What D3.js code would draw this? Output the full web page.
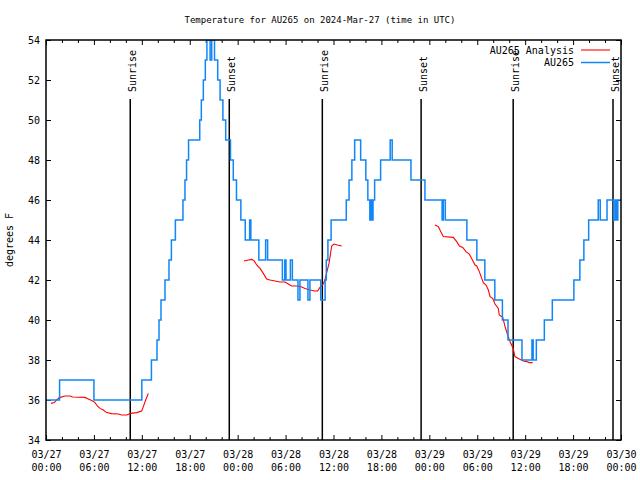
<!DOCTYPE html>
<html><head><meta charset="utf-8">
<script src="https://cdn.jsdelivr.net/npm/d3@7"></script>
<style>
body{margin:0;background:#fff;}
svg{display:block;}
text{font-family:"DejaVu Sans Mono",monospace;font-size:10px;fill:#000;}
</style></head><body>
<svg id="c" width="640" height="480"></svg>
<script>
const titleText = "Temperature for AU265 on 2024-Mar-27 (time in UTC)";
const yAxisLabel = "degrees F";
const seriesNames = ["AU265 Analysis", "AU265"];
const seriesColors = ["#ff0000", "#1186f5"];
const startTime = "2024-03-27T00:00:00Z";
const endTime = "2024-03-30T00:00:00Z";
const yTickValues = [34, 36, 38, 40, 42, 44, 46, 48, 50, 52, 54];

// AU265 observations (hours since start, degrees F)
const blueHours = [0, 1.7, 6.0, 12.0, 13.2, 13.9, 14.15, 14.4, 14.9, 15.4, 15.7, 16.2, 17.15, 17.4, 17.6, 17.85,
  19.25, 19.45, 19.7, 19.95, 20.15, 20.35, 20.55, 20.75, 20.95, 21.1, 21.5, 21.8, 22.15, 22.5, 23.1, 23.45, 23.85,
  24.4, 24.95, 25.5, 25.65, 26.65, 27.5, 27.75, 29.6, 29.9, 30.05, 30.6, 30.85, 31.55, 31.8, 32.8, 33.05, 34.4,
  34.95, 35.1, 35.3, 35.7, 37.6, 37.95, 38.3, 38.65, 39.4, 40.05, 40.3, 40.55, 40.7, 40.85, 40.95, 41.15, 41.9,
  43.1, 43.35, 45.7, 47.45, 49.6, 49.75, 50.0, 52.7, 53.95, 54.95, 56.2, 57.15, 57.85, 59.6, 60.85, 61.0, 61.4,
  62.4, 63.4, 66.1, 66.85, 67.35, 67.95, 69.15, 69.4, 70.25, 71.1, 71.3, 71.45, 71.6, 72];
const blueTemps = [36, 37, 36, 37, 38, 39, 40, 41, 42, 43, 44, 45, 46, 47, 48, 49,
  50, 51, 52, 53, 55, 54, 53, 55, 54, 53, 52, 51, 50, 49, 48, 47, 46,
  45, 44, 45, 44, 43, 44, 43, 42, 43, 42, 43, 42, 41, 42, 41, 42, 41,
  42, 43, 44, 45, 46, 47, 48, 49, 48, 47, 46, 45, 46, 45, 46, 47, 48,
  49, 48, 47, 46, 45, 46, 45, 44, 43, 42, 41, 40, 39, 38, 39, 38, 39,
  40, 41, 42, 43, 44, 45, 46, 45, 46, 45, 46, 45, 46, 46];

// AU265 Analysis (hours since start, degrees F); null = gap
const redHours = [0.63, 1.04, 1.34, 1.67, 2.38, 3.0, 3.34, 4.88, 5.3, 5.72, 6.14, 6.43, 6.76, 7.18, 7.6, 8.22, 9.05,
  9.48, 10.1, 10.6, 11.35, 11.98, 12.19, 12.48, 12.81, 18,
  24.79, 25.34, 25.75, 26.05, 26.38, 26.8, 27.21, 27.63, 28.05, 28.68, 29.3, 29.93, 30.34, 30.76, 31.39, 31.89,
  32.43, 33.06, 33.68, 34.0, 34.31, 34.64, 34.9, 35.15, 35.44, 35.77, 36.06, 36.48, 37.03, 42,
  48.71, 49.13, 49.42, 49.75, 51.0, 51.43, 51.76, 52.18, 52.59, 53.0, 53.3, 53.72, 53.93, 54.26, 54.56, 54.76,
  55.1, 55.39, 55.6, 55.93, 56.22, 56.64, 56.76, 57.19, 57.48, 57.77, 58.1, 58.5, 58.72, 59.14, 59.77, 60.19,
  60.52, 60.94];
const redTemps = [35.83, 35.87, 36.0, 36.12, 36.2, 36.2, 36.15, 36.13, 36.05, 35.97, 35.87, 35.7, 35.58, 35.5, 35.37,
  35.32, 35.3, 35.25, 35.25, 35.33, 35.37, 35.45, 35.67, 36.0, 36.33, null,
  42.95, 43.0, 43.03, 42.97, 42.75, 42.58, 42.33, 42.05, 42.0, 41.95, 41.9, 41.9, 41.8, 41.7, 41.7, 41.67,
  41.58, 41.5, 41.45, 41.45, 41.63, 41.75, 41.97, 42.37, 42.83, 43.7, 43.8, 43.75, 43.7, null,
  44.75, 44.67, 44.42, 44.17, 44.13, 43.92, 43.7, 43.63, 43.42, 43.3, 43.08, 42.75, 42.7, 42.42, 42.08, 41.87,
  41.75, 41.5, 41.17, 41.08, 40.8, 40.58, 40.25, 40.13, 39.67, 39.3, 38.92, 38.58, 38.17, 38.08, 37.95, 37.92,
  37.87, 37.87];

const sunEventHours = [10.55, 22.95, 34.6, 46.97, 58.5, 71.0];
const sunEventLabels = ["Sunrise", "Sunset", "Sunrise", "Sunset", "Sunrise", "Sunset"];

const svg = d3.select("#c");
const L = 46, R = 621, T = 40, B = 440;
const t0 = new Date(startTime);
const toDate = h => new Date(t0.getTime() + h * 3600e3);
const x = d3.scaleUtc().domain([t0, new Date(endTime)]).range([L, R]);
const y = d3.scaleLinear().domain([34, 54]).range([B, T]);

svg.append("defs").append("clipPath").attr("id", "clip")
  .append("rect").attr("x", L).attr("y", T).attr("width", R - L).attr("height", B - T);

const majorX = d3.utcHour.every(6).range(t0, new Date(new Date(endTime).getTime() + 1));
const minorX = d3.utcHour.every(2).range(t0, new Date(endTime)).filter(d => d.getUTCHours() % 6 !== 0);

function styleAxis(g) {
  g.select(".domain").remove();
  g.selectAll("line").attr("stroke", "#000").attr("stroke-width", 1);
}
// bottom axis (major + minor)
const gb = svg.append("g").attr("transform", `translate(0,${B})`)
  .call(d3.axisBottom(x).tickValues(majorX).tickSizeInner(-5).tickSizeOuter(0).tickPadding(0).tickFormat(""));
styleAxis(gb);
gb.selectAll(".tick").each(function(d) {
  const t = d3.select(this).append("text").attr("text-anchor", "middle");
  t.append("tspan").attr("x", 0).attr("y", 18).text(d3.utcFormat("%m/%d")(d));
  t.append("tspan").attr("x", 0).attr("y", 31).text(d3.utcFormat("%H:%M")(d));
});
styleAxis(svg.append("g").attr("transform", `translate(0,${B})`)
  .call(d3.axisBottom(x).tickValues(minorX).tickSizeInner(-3).tickSizeOuter(0).tickFormat("")));
// top mirror
styleAxis(svg.append("g").attr("transform", `translate(0,${T})`)
  .call(d3.axisTop(x).tickValues(majorX).tickSizeInner(-5).tickSizeOuter(0).tickFormat("")));
styleAxis(svg.append("g").attr("transform", `translate(0,${T})`)
  .call(d3.axisTop(x).tickValues(minorX).tickSizeInner(-3).tickSizeOuter(0).tickFormat("")));
// left axis
const gl = svg.append("g").attr("transform", `translate(${L},0)`)
  .call(d3.axisLeft(y).tickValues(yTickValues).tickSizeInner(-5).tickSizeOuter(0).tickPadding(0).tickFormat(""));
styleAxis(gl);
gl.selectAll(".tick").append("text").attr("x", -6).attr("dy", "0.35em").attr("text-anchor", "end")
  .text(d => d3.format("d")(d));
// right mirror
styleAxis(svg.append("g").attr("transform", `translate(${R},0)`)
  .call(d3.axisRight(y).tickValues(yTickValues).tickSizeInner(-5).tickSizeOuter(0).tickFormat("")));

// sunrise / sunset markers
const sg = svg.append("g");
sunEventHours.forEach((h, i) => {
  const px = x(toDate(h));
  sg.append("line").attr("x1", px).attr("x2", px).attr("y1", 99).attr("y2", B)
    .attr("stroke", "#000").attr("stroke-width", 1.5);
  sg.append("text").attr("transform", `translate(${px + 5.5},92) rotate(-90)`)
    .attr("text-anchor", "start").text(sunEventLabels[i]);
});

// data
const plot = svg.append("g").attr("clip-path", "url(#clip)");
const redData = redHours.map((h, i) => ({ t: toDate(h), v: redTemps[i] }));
plot.append("path").datum(redData)
  .attr("fill", "none").attr("stroke", seriesColors[0]).attr("stroke-width", 1.1)
  .attr("d", d3.line().defined(d => d.v !== null).x(d => x(d.t)).y(d => y(d.v)));
const blueData = blueHours.map((h, i) => ({ t: toDate(h), v: blueTemps[i] }));
plot.append("path").datum(blueData)
  .attr("fill", "none").attr("stroke", seriesColors[1]).attr("stroke-width", 1.5)
  .attr("d", d3.line().curve(d3.curveStepAfter).x(d => x(d.t)).y(d => y(d.v)));

// frame
svg.append("rect").attr("x", L).attr("y", T).attr("width", R - L).attr("height", B - T)
  .attr("fill", "none").attr("stroke", "#000").attr("stroke-width", 1.5);

// title and y label
svg.append("text").attr("x", 320).attr("y", 23).attr("text-anchor", "middle")
  .style("font-size", "9px").text(titleText);
svg.append("text").attr("transform", `translate(13,240) rotate(-90)`).attr("text-anchor", "middle").text(yAxisLabel);

// legend
seriesNames.forEach((name, i) => {
  const ly = 50 + i * 12.5;
  svg.append("text").attr("x", 574).attr("y", ly).attr("dy", "0.35em").attr("text-anchor", "end").text(name);
  svg.append("line").attr("x1", 581).attr("x2", 610).attr("y1", ly).attr("y2", ly)
    .attr("stroke", seriesColors[i]).attr("stroke-width", i === 0 ? 1.1 : 1.5);
});
</script>
</body></html>
